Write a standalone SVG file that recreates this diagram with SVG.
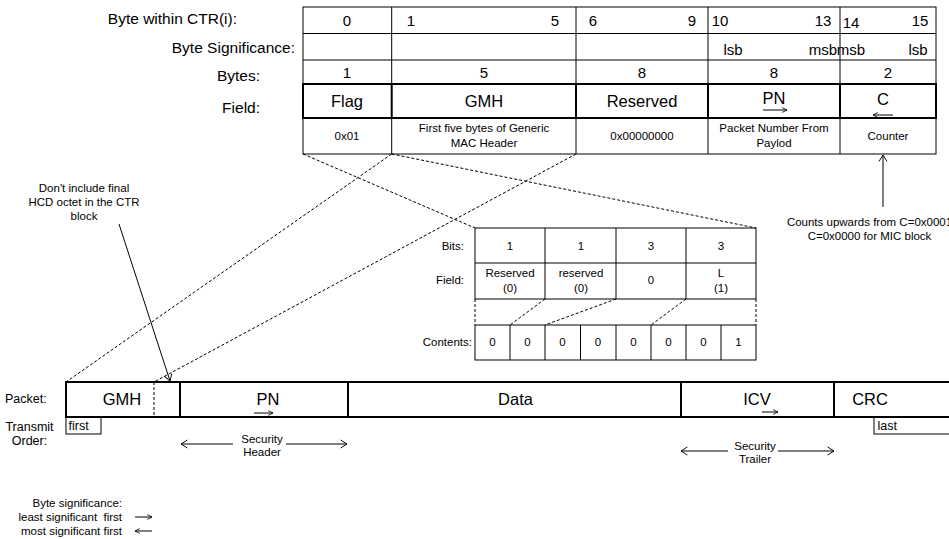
<svg xmlns="http://www.w3.org/2000/svg" width="949" height="539" viewBox="0 0 949 539">
<style>
text{font-family:"Liberation Sans",Arial,sans-serif;fill:#000}
.l15{font-size:15px}
.l16{font-size:15.5px}
.b17{font-size:16.5px}
.s{font-size:11.5px}
.p{font-size:12.5px}
.m{text-anchor:middle}
.e{text-anchor:end}
.thin{fill:none;stroke:#000;stroke-width:1}
.thick{fill:none;stroke:#000;stroke-width:2}
.dash{fill:none;stroke:#000;stroke-width:1;stroke-dasharray:3 2}
.arr{fill:none;stroke:#000;stroke-width:1}
</style>
<defs>
<marker id="oa" viewBox="0 0 10 12" refX="9" refY="6" markerWidth="8" markerHeight="10" markerUnits="userSpaceOnUse" orient="auto-start-reverse"><path d="M1,1 L9,6 L1,11" fill="none" stroke="#000" stroke-width="1.2"/></marker>
<marker id="os" viewBox="0 0 10 10" refX="9" refY="5" markerWidth="6" markerHeight="7" markerUnits="userSpaceOnUse" orient="auto-start-reverse"><path d="M1,1 L9,5 L1,9" fill="none" stroke="#000" stroke-width="1.4"/></marker>
</defs>
<rect width="949" height="539" fill="#fff"/>

<!-- row labels of CTR block -->
<g id="ctr-labels">
<text class="l16 e" x="237" y="24">Byte within CTR(i):</text>
<text class="l16 e" x="295" y="53">Byte Significance:</text>
<text class="l16 e" x="260" y="81">Bytes:</text>
<text class="l16 e" x="260" y="113">Field:</text>
</g>

<!-- CTR block table -->
<g id="ctr-table">
<rect class="thin" x="303" y="7" width="633" height="77"/>
<path class="thin" d="M303,33.5H936M303,60H936M391.7,7V84M576,7V84M708,7V84M840,7V84"/>
<rect class="thin" x="303" y="118" width="633" height="36"/>
<path class="thin" d="M391.7,118V154M576,118V154M708,118V154M840,118V154"/>
<rect class="thick" x="303" y="84" width="633" height="34"/>
<path class="thick" d="M391.7,84V118M576,84V118M708,84V118M840,84V118"/>
</g>
<g id="ctr-flag">
<text class="l15 m" x="347" y="26">0</text>
<text class="l15 m" x="347" y="78">1</text>
<text class="b17 m" x="347" y="107">Flag</text>
<text class="s m" x="347" y="140">0x01</text>
</g>
<g id="ctr-gmh">
<text class="l15 m" x="411" y="26">1</text>
<text class="l15 m" x="555" y="26">5</text>
<text class="l15 m" x="484" y="78">5</text>
<text class="b17 m" x="484" y="107">GMH</text>
<text class="s m" x="484" y="132">First five bytes of Generic</text>
<text class="s m" x="484" y="146.5">MAC Header</text>
</g>
<g id="ctr-reserved">
<text class="l15 m" x="593" y="26">6</text>
<text class="l15 m" x="692" y="26">9</text>
<text class="l15 m" x="642" y="78">8</text>
<text class="b17 m" x="642" y="107">Reserved</text>
<text class="s m" x="642" y="140">0x00000000</text>
</g>
<g id="ctr-pn">
<text class="l15 m" x="720" y="26">10</text>
<text class="l15 m" x="823" y="26">13</text>
<text class="l15 m" x="733" y="55">lsb</text>
<text class="l15 m" x="823" y="55">msb</text>
<text class="l15 m" x="774" y="78">8</text>
<text class="b17 m" x="774" y="104">PN</text>
<line class="arr" x1="763" y1="110" x2="787" y2="110" marker-end="url(#os)"/>
<text class="s m" x="774" y="132">Packet Number From</text>
<text class="s m" x="774" y="146.5">Paylod</text>
</g>
<g id="ctr-counter">
<text class="l15 m" x="851" y="28">14</text>
<text class="l15 m" x="920" y="26">15</text>
<text class="l15 m" x="851" y="55">msb</text>
<text class="l15 m" x="918" y="55">lsb</text>
<text class="l15 m" x="888" y="78">2</text>
<text class="b17 m" x="883" y="105">C</text>
<line class="arr" x1="893" y1="115" x2="873" y2="115" marker-end="url(#os)"/>
<text class="s m" x="888" y="140">Counter</text>
</g>

<!-- Flag bits table -->
<g id="flag-bits">
<text class="s e" x="464" y="250">Bits:</text>
<text class="s e" x="464" y="284">Field:</text>
<text class="s e" x="472" y="346">Contents:</text>
<rect class="thin" x="475" y="228" width="281" height="71"/>
<path class="thin" d="M475,263H756M545,228V299M616,228V299M686,228V299"/>
<text class="s m" x="510" y="250">1</text>
<text class="s m" x="581" y="250">1</text>
<text class="s m" x="651" y="250">3</text>
<text class="s m" x="721" y="250">3</text>
<text class="s m" x="510" y="277">Reserved</text>
<text class="s m" x="510" y="292">(0)</text>
<text class="s m" x="581" y="277">reserved</text>
<text class="s m" x="581" y="292">(0)</text>
<text class="s m" x="651" y="284">0</text>
<text class="s m" x="721" y="277">L</text>
<text class="s m" x="721" y="292">(1)</text>
<path class="dash" d="M475,299V325M545,299L510,325M616,299L545,325M686,299L651,325M756,299V325"/>
<rect class="thin" x="475" y="325" width="281" height="35"/>
<path class="thin" d="M510,325V360M545,325V360M580.5,325V360M616,325V360M651,325V360M686,325V360M721,325V360"/>
<text class="s m" x="492.5" y="346">0</text>
<text class="s m" x="527.5" y="346">0</text>
<text class="s m" x="562.5" y="346">0</text>
<text class="s m" x="598" y="346">0</text>
<text class="s m" x="633.5" y="346">0</text>
<text class="s m" x="668.5" y="346">0</text>
<text class="s m" x="703.5" y="346">0</text>
<text class="s m" x="738.5" y="346">1</text>
</g>

<!-- notes -->
<g id="note-hcd">
<text class="s m" x="84" y="192">Don't include final</text>
<text class="s m" x="84" y="206">HCD octet in the CTR</text>
<text class="s m" x="84" y="220">block</text>
</g>
<g id="note-counter">
<text class="s m" x="869.5" y="226">Counts upwards from C=0x0001</text>
<text class="s m" x="869.5" y="240">C=0x0000 for MIC block</text>
</g>

<!-- packet -->
<g id="packet">
<text class="p" x="5" y="403">Packet:</text>
<text class="p m" x="29.5" y="431">Transmit</text>
<text class="p m" x="29.5" y="445">Order:</text>
<rect class="thick" x="66" y="382" width="884" height="35"/>
<path class="thick" d="M180,382V417M348,382V417M681,382V417M834,382V417"/>
<path class="dash" d="M154,382V417"/>
<text class="b17 m" x="122" y="405">GMH</text>
<text class="b17 m" x="268" y="405">PN</text>
<line class="arr" x1="254" y1="413" x2="273" y2="413" marker-end="url(#os)"/>
<text class="b17 m" x="515.5" y="405">Data</text>
<text class="b17 m" x="757" y="405">ICV</text>
<line class="arr" x1="762" y1="412" x2="778" y2="412" marker-end="url(#os)"/>
<text class="b17 m" x="870" y="405">CRC</text>
</g>
<g id="first">
<rect class="thin" x="66" y="417" width="35" height="17"/>
<text class="p" x="68.5" y="430">first</text>
</g>
<g id="last">
<rect class="thin" x="874" y="417" width="80" height="17"/>
<text class="p" x="877.5" y="430">last</text>
</g>
<g id="security-header">
<text class="s m" x="262" y="443">Security</text>
<text class="s m" x="262" y="456">Header</text>
</g>
<g id="security-trailer">
<text class="s m" x="755" y="450">Security</text>
<text class="s m" x="755" y="463">Trailer</text>
</g>

<!-- legend -->
<g id="legend">
<text class="s e" x="122" y="507">Byte significance:</text>
<text class="s e" x="122" y="521" style="white-space:pre">least significant  first</text>
<text class="s e" x="122" y="535">most significant first</text>
</g>

<!-- connectors -->
<g id="connectors">
<path class="dash" d="M391.7,154L66,382M576,154L154,382M303,154L475,228M391.7,154L756,228"/>
<line class="arr" x1="119" y1="224" x2="170" y2="381" marker-end="url(#oa)"/>
<line class="arr" x1="883" y1="207" x2="883" y2="155" marker-end="url(#oa)"/>
<line class="arr" x1="233" y1="444" x2="181" y2="444" marker-end="url(#oa)"/>
<line class="arr" x1="286" y1="444" x2="347" y2="444" marker-end="url(#oa)"/>
<line class="arr" x1="728" y1="451" x2="681" y2="451" marker-end="url(#oa)"/>
<line class="arr" x1="778" y1="451" x2="834" y2="451" marker-end="url(#oa)"/>
<line class="arr" x1="135" y1="517" x2="152" y2="517" marker-end="url(#os)"/>
<line class="arr" x1="152" y1="531" x2="135" y2="531" marker-end="url(#os)"/>
</g>
</svg>
